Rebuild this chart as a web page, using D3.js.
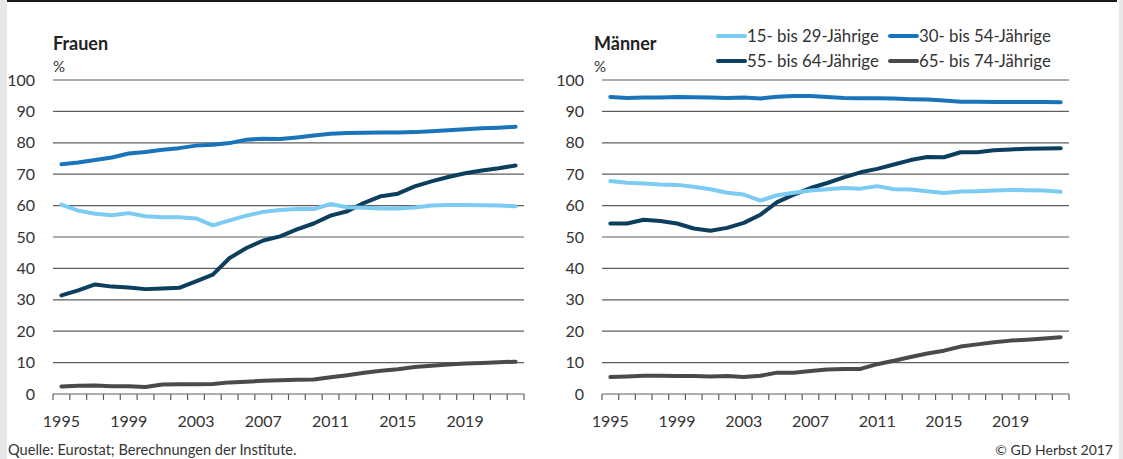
<!DOCTYPE html>
<html>
<head>
<meta charset="utf-8">
<script src="https://cdn.jsdelivr.net/npm/d3@7"></script>
<style>
  html, body { margin: 0; padding: 0; background: #fff; }
  svg { display: block; font-family: Lato, "Noto Sans", sans-serif; }
</style>
</head>
<body>
<svg id="chart" width="1123" height="459"></svg>
<script>
// Erwerbstätigenquoten nach Altersgruppen, Frauen und Männer, 1995–2022
const years = [1995, 1996, 1997, 1998, 1999, 2000, 2001, 2002, 2003, 2004,
  2005, 2006, 2007, 2008, 2009, 2010, 2011, 2012, 2013, 2014,
  2015, 2016, 2017, 2018, 2019, 2020, 2021, 2022];
const yearLabels = [1995, 1999, 2003, 2007, 2011, 2015, 2019];
const yTicks = [0, 10, 20, 30, 40, 50, 60, 70, 80, 90, 100];
const seriesNames = ["15- bis 29-Jährige", "30- bis 54-Jährige", "55- bis 64-Jährige", "65- bis 74-Jährige"];
const seriesColors = ["#7ccbf2", "#1a74ba", "#0c3e5e", "#4a4a4a"];

// Frauen
const frauen15_29 = [60.3, 58.4, 57.4, 56.9, 57.6, 56.6, 56.3, 56.3, 55.9, 53.7,
  55.3, 56.8, 58.0, 58.6, 58.9, 58.9, 60.5, 59.5, 59.3, 59.1,
  59.1, 59.4, 60.0, 60.2, 60.2, 60.1, 60.0, 59.8];
const frauen30_54 = [73.2, 73.7, 74.5, 75.3, 76.6, 77.1, 77.8, 78.3, 79.1, 79.4,
  79.9, 81.0, 81.3, 81.2, 81.7, 82.3, 82.9, 83.1, 83.2, 83.3,
  83.3, 83.4, 83.7, 84.0, 84.3, 84.6, 84.8, 85.1];
const frauen55_64 = [31.4, 33.0, 34.9, 34.2, 33.9, 33.4, 33.6, 33.8, 35.9, 38.0,
  43.3, 46.5, 48.9, 50.2, 52.4, 54.3, 56.8, 58.2, 60.9, 63.0,
  63.8, 66.1, 67.7, 69.1, 70.3, 71.2, 71.9, 72.8];
const frauen65_74 = [2.4, 2.6, 2.7, 2.5, 2.5, 2.2, 3.0, 3.1, 3.1, 3.2,
  3.7, 3.9, 4.2, 4.4, 4.5, 4.6, 5.3, 6.0, 6.8, 7.4,
  7.9, 8.6, 9.0, 9.4, 9.7, 9.9, 10.1, 10.3];

// Männer
const maenner15_29 = [67.8, 67.3, 67.0, 66.7, 66.6, 66.0, 65.2, 64.1, 63.5, 61.6,
  63.3, 64.1, 64.8, 65.2, 65.6, 65.4, 66.2, 65.2, 65.1, 64.6,
  64.0, 64.5, 64.6, 64.8, 65.0, 64.9, 64.8, 64.4];
const maenner30_54 = [94.6, 94.3, 94.4, 94.4, 94.6, 94.5, 94.4, 94.3, 94.4, 94.1,
  94.7, 94.9, 94.9, 94.6, 94.3, 94.2, 94.2, 94.1, 93.9, 93.8,
  93.5, 93.1, 93.1, 93.0, 93.0, 93.0, 93.0, 92.9];
const maenner55_64 = [54.3, 54.3, 55.5, 55.1, 54.3, 52.7, 52.0, 52.9, 54.5, 57.1,
  61.1, 63.5, 65.6, 67.2, 69.0, 70.6, 71.7, 73.1, 74.5, 75.5,
  75.4, 77.0, 77.0, 77.6, 77.9, 78.1, 78.2, 78.3];
const maenner65_74 = [5.4, 5.6, 5.8, 5.8, 5.7, 5.7, 5.6, 5.7, 5.4, 5.8,
  6.8, 6.8, 7.3, 7.8, 8.0, 8.0, 9.5, 10.6, 11.8, 12.9,
  13.8, 15.1, 15.8, 16.5, 17.0, 17.3, 17.7, 18.1];

const svg = d3.select("#chart");
const W = 1123, H = 459;
const textColor = "#333";

// Rahmen: graue Randstreifen und schwarze Linie oben
svg.append("rect").attr("x", 0).attr("y", 0).attr("width", 7).attr("height", H).attr("fill", "#e8e8e8");
svg.append("rect").attr("x", 1119).attr("y", 0).attr("width", 4).attr("height", H).attr("fill", "#e8e8e8");
svg.append("line").attr("x1", 7).attr("x2", 1117).attr("y1", 1).attr("y2", 1)
  .attr("stroke", "#1a1a1a").attr("stroke-width", 2);

const y = d3.scaleLinear().domain([0, 100]).range([394, 80]);

function drawPanel(title, titleX, x0, x1, data) {
  const g = svg.append("g");
  const x = d3.scaleBand().domain(years).range([x0, x1]).paddingInner(0).paddingOuter(0);
  const cx = d => x(d) + x.bandwidth() / 2;

  // Gitterlinien
  g.selectAll("line.grid").data(yTicks.filter(t => t > 0)).join("line")
    .attr("class", "grid")
    .attr("x1", x0).attr("x2", x1)
    .attr("y1", d => y(d)).attr("y2", d => y(d))
    .attr("stroke", "#5e5e5e").attr("stroke-width", 1.2);

  // y-Achsenbeschriftung
  g.selectAll("text.ylab").data(yTicks).join("text")
    .attr("class", "ylab")
    .attr("x", x0 - 18).attr("y", d => y(d)).attr("dy", "0.35em")
    .attr("text-anchor", "end").attr("font-size", 16).attr("fill", textColor)
    .text(d => d);

  // x-Achse: Linie und Striche an den Jahresgrenzen
  g.append("line").attr("x1", x0).attr("x2", x1).attr("y1", y(0)).attr("y2", y(0))
    .attr("stroke", "#5e5e5e").attr("stroke-width", 1.2);
  const boundaries = years.map(d => x(d)).concat([x1]);
  g.selectAll("line.tick").data(boundaries).join("line")
    .attr("class", "tick")
    .attr("x1", d => d).attr("x2", d => d)
    .attr("y1", y(0)).attr("y2", y(0) + 6)
    .attr("stroke", "#5e5e5e").attr("stroke-width", 1.2);
  g.selectAll("text.xlab").data(yearLabels).join("text")
    .attr("class", "xlab")
    .attr("x", d => cx(d)).attr("y", 421).attr("dy", "0.35em")
    .attr("text-anchor", "middle").attr("font-size", 16).attr("fill", textColor)
    .text(d => d);

  // Titel und Einheit
  g.append("text").attr("x", titleX).attr("y", 50)
    .attr("font-size", 18).attr("font-weight", "bold").attr("fill", "#222").text(title);
  g.append("text").attr("x", titleX).attr("y", 72)
    .attr("font-size", 15).attr("fill", textColor).text("%");

  // Linien (älteste Gruppe zuerst, jüngste oben)
  const line = d3.line().x((d, i) => cx(years[i])).y(d => y(d)).curve(d3.curveLinear);
  [3, 2, 1, 0].forEach(k => {
    g.append("path").datum(data[k])
      .attr("d", line)
      .attr("fill", "none")
      .attr("stroke", seriesColors[k])
      .attr("stroke-width", 4)
      .attr("stroke-linejoin", "round")
      .attr("stroke-linecap", "round");
  });
}

drawPanel("Frauen", 53, 53, 524, [frauen15_29, frauen30_54, frauen55_64, frauen65_74]);
drawPanel("Männer", 594, 602, 1069, [maenner15_29, maenner30_54, maenner55_64, maenner65_74]);

// Legende
const legendPos = [[718, 36], [890, 36], [718, 61], [890, 61]];
const lg = svg.append("g");
seriesNames.forEach((name, i) => {
  const [lx, ly] = legendPos[i];
  lg.append("line").attr("x1", lx).attr("x2", lx + 27).attr("y1", ly).attr("y2", ly)
    .attr("stroke", seriesColors[i]).attr("stroke-width", 4).attr("stroke-linecap", "round");
  lg.append("text").attr("x", lx + 29).attr("y", ly).attr("dy", "0.35em")
    .attr("font-size", 16.8).attr("fill", textColor).text(name);
});

// Fußzeile
svg.append("text").attr("x", 8).attr("y", 450).attr("dy", "0.35em")
  .attr("font-size", 14.6).attr("fill", textColor).text("Quelle: Eurostat; Berechnungen der Institute.");
svg.append("text").attr("x", 1113).attr("y", 450).attr("dy", "0.35em")
  .attr("text-anchor", "end").attr("font-size", 14).attr("fill", textColor).text("© GD Herbst 2017");
</script>
</body>
</html>
